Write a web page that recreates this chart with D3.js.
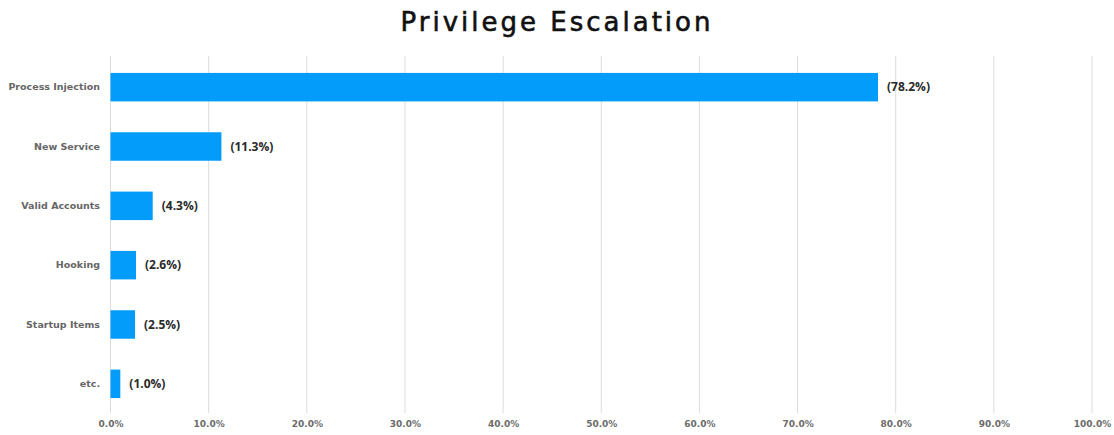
<!DOCTYPE html>
<html>
<head>
<meta charset="utf-8">
<script src="https://cdn.jsdelivr.net/npm/d3@7"></script>
<style>
  html, body { margin: 0; padding: 0; background: #fff; }
  svg { display: block; }
</style>
</head>
<body>
<svg id="chart" width="1114" height="435"></svg>
<script>
const categories = ["Process Injection", "New Service", "Valid Accounts", "Hooking", "Startup Items", "etc."];
const values = [78.2, 11.3, 4.3, 2.6, 2.5, 1.0];
const tickValues = [0, 10, 20, 30, 40, 50, 60, 70, 80, 90, 100];
const titleText = "Privilege Escalation";

const svg = d3.select("#chart");
const margin = { left: 110.5, right: 22, top: 57.5, bottom: 21.5 };
const W = 1114, H = 435;

const x = d3.scaleLinear().domain([0, 100]).range([margin.left, W - margin.right]);
const y = d3.scaleBand().domain(categories).range([margin.top, H - margin.bottom]).paddingInner(0.52).paddingOuter(0.26);

// gridlines
svg.append("g").selectAll("line").data(tickValues).join("line")
  .attr("x1", d => x(d)).attr("x2", d => x(d))
  .attr("y1", 56).attr("y2", 413)
  .attr("stroke", "#dcdcdc").attr("stroke-width", 1);

// x axis labels
const xAxis = d3.axisBottom(x).tickValues(tickValues).tickSize(0).tickPadding(0)
  .tickFormat(d => d.toFixed(1) + "%");
const gx = svg.append("g").attr("transform", "translate(0,421)").call(xAxis);
gx.select(".domain").remove();
gx.selectAll("text").attr("fill", "#6b6b6b").style("font-family", "'DejaVu Sans', sans-serif")
  .style("font-size", "9px").style("font-weight", "bold").attr("dy", "0.71em");

// y axis labels
const yAxis = d3.axisLeft(y).tickSize(0).tickPadding(0);
const gy = svg.append("g").attr("transform", "translate(100,0)").call(yAxis);
gy.select(".domain").remove();
gy.selectAll("text").attr("fill", "#666").style("font-family", "'DejaVu Sans', sans-serif")
  .style("font-size", "9.5px").style("font-weight", "bold");

// bars
svg.append("g").selectAll("rect").data(categories).join("rect")
  .attr("x", x(0))
  .attr("y", d => y(d))
  .attr("width", (d, i) => x(values[i]) - x(0))
  .attr("height", y.bandwidth())
  .attr("fill", "#039cfb");

// value labels
svg.append("g").selectAll("text").data(categories).join("text")
  .attr("x", (d, i) => x(values[i]) + 9)
  .attr("y", d => y(d) + y.bandwidth() / 2)
  .attr("dy", "0.35em")
  .attr("fill", "#2a2a2a")
  .style("font-family", "'Open Sans', sans-serif")
  .style("font-size", "12px")
  .style("font-weight", "bold")
  .text((d, i) => "(" + values[i].toFixed(1) + "%)");

// title
svg.append("text")
  .attr("x", 557).attr("y", 31)
  .attr("text-anchor", "middle")
  .style("font-family", "'DejaVu Sans', sans-serif")
  .style("font-size", "26px")
  .style("letter-spacing", "3px")
  .attr("fill", "#111")
  .attr("stroke", "#111")
  .attr("stroke-width", 0.6)
  .text(titleText);
</script>
</body>
</html>
